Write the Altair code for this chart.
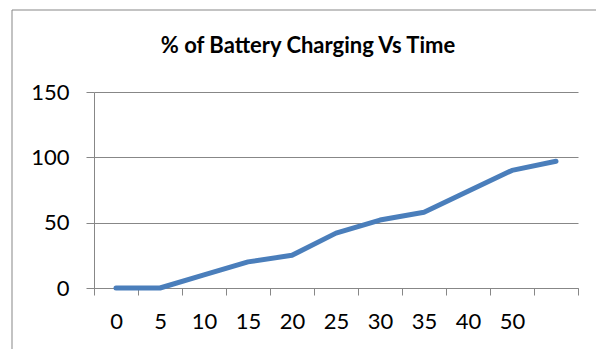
import altair as alt
import pandas as pd

title_text = "% of Battery Charging Vs Time"
time_labels = ["0", "5", "10", "15", "20", "25", "30", "35", "40", "50", " "]
charge = [0, 0, 10, 20, 25, 42, 52, 58, 74, 90, 97]
y_ticks = [0, 50, 100, 150]

df = pd.DataFrame({"time": time_labels, "charge": charge})

GRAY = "#878787"
FONT = "Lato"

line = alt.Chart(df).mark_line(color="#4a7ebb", strokeWidth=5, strokeCap="round", strokeJoin="round").encode(
    x=alt.X("time:N", sort=time_labels, title=None,
            scale=alt.Scale(paddingInner=0, paddingOuter=0),
            axis=alt.Axis(tickBand="extent", labelAngle=0, labelFontSize=22, labelFont=FONT,
                          labelColor="black", tickSize=7, tickColor=GRAY, domainColor=GRAY,
                          labelPadding=16, grid=False)),
    y=alt.Y("charge:Q", title=None,
            scale=alt.Scale(domain=[0, 150], nice=False),
            axis=alt.Axis(values=y_ticks, labelFontSize=22, labelFont=FONT, labelColor="black",
                          tickSize=8, tickColor=GRAY, domainColor=GRAY, gridColor=GRAY,
                          labelPadding=17)),
)

deco = pd.DataFrame({"title": [title_text]})
frame = alt.Chart(deco).mark_rect(fill=None, stroke=GRAY, strokeWidth=1).encode(
    x=alt.value(-82), y=alt.value(-82), x2=alt.value(700), y2=alt.value(500)
)
title = alt.Chart(deco).mark_text(font=FONT, fontSize=22, fontWeight="bold", color="black",
                                  align="center", baseline="alphabetic").encode(
    x=alt.value(214), y=alt.value(-39), text="title:N"
)

chart = alt.layer(line, frame, title).properties(
    width=484, height=196,
    autosize=alt.AutoSizeParams(type="none"),
    padding={"left": 94, "top": 92, "right": 18, "bottom": 61},
).configure_view(stroke=None).configure_axis(gridWidth=1, domainWidth=1, tickWidth=1)

chart.save("out.html", embed_options={"renderer": "svg", "actions": False})
